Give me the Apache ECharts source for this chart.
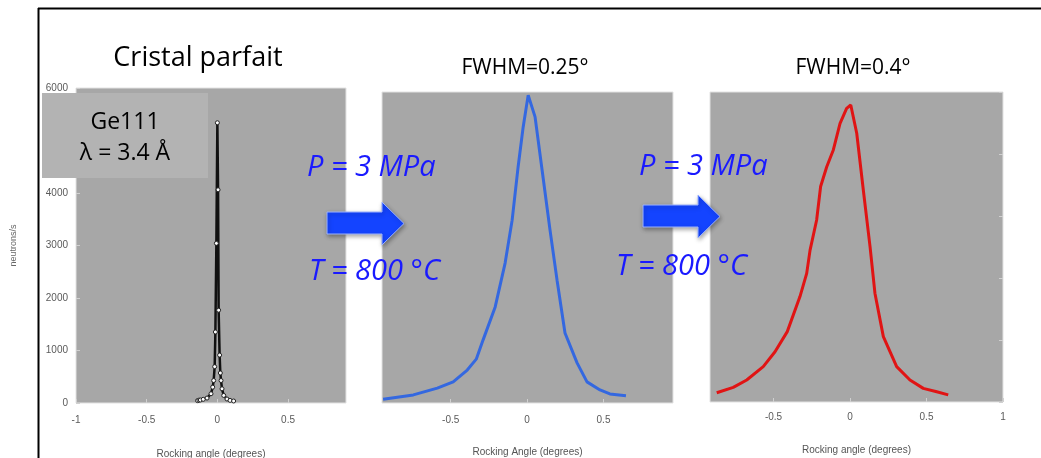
<!DOCTYPE html>
<html><head><meta charset="utf-8">
<script src="https://cdn.jsdelivr.net/npm/echarts@6/dist/echarts.min.js"></script>
<style>html,body{margin:0;padding:0;background:#fff}#c{width:1041px;height:458px}</style>
</head><body><div id="c"></div>
<script>
// Panel 1: perfect crystal (Ge111), neutrons/s vs rocking angle
const angle1 = [-0.14,-0.13,-0.12,-0.10,-0.073,-0.045,-0.033,-0.026,-0.019,-0.014,-0.007,0,0.005,0.009,0.016,0.021,0.026,0.033,0.045,0.068,0.09,0.115];
const counts1 = [45,55,57,70,94,176,302,428,692,1353,3041,5338,4061,1768,912,572,428,270,144,76,50,38];
// Panel 2: FWHM = 0.25° (normalised intensity)
const angle2 = [-0.943,-0.745,-0.588,-0.484,-0.392,-0.333,-0.288,-0.209,-0.144,-0.098,-0.059,-0.026,0.007,0.052,0.098,0.150,0.196,0.248,0.327,0.392,0.477,0.542,0.647];
const int2 = [0.012,0.026,0.048,0.068,0.106,0.141,0.203,0.309,0.450,0.588,0.759,0.887,0.990,0.920,0.749,0.556,0.395,0.225,0.129,0.068,0.042,0.029,0.023];
// Panel 3: FWHM = 0.4° (normalised intensity)
const angle3 = [-0.871,-0.763,-0.675,-0.567,-0.490,-0.410,-0.327,-0.283,-0.261,-0.218,-0.192,-0.152,-0.109,-0.065,-0.022,0.005,0.044,0.087,0.131,0.163,0.218,0.305,0.392,0.479,0.567,0.642];
const int3 = [0.030,0.047,0.071,0.114,0.162,0.227,0.340,0.415,0.490,0.587,0.695,0.759,0.813,0.899,0.947,0.958,0.867,0.684,0.501,0.351,0.211,0.114,0.071,0.044,0.033,0.023];
const yTicks1 = [0,1000,2000,3000,4000,5000,6000];
const xTicks1 = [-1,-0.5,0,0.5];
const xTicks2 = [-0.5,0,0.5];
const xTicks3 = [-0.5,0,0.5,1];
const titles = ['Cristal parfait','FWHM=0.25°','FWHM=0.4°'];
const xNames = ['Rocking angle (degrees)','Rocking Angle (degrees)','Rocking angle (degrees)'];
const yName = 'neutrons/s';

const pairs = (xs, ys) => xs.map((x,i)=>[x, ys[i]]);
const gray = '#a7a7a7';
const labStyle = {color:'#5a5a5a', fontSize:10, fontFamily:'Liberation Sans'};
function xAx(idx, min, max, ticks, name, gap, margin){
  return {type:'value', gridIndex:idx, min, max, name, nameLocation:'middle', nameGap:gap,
    nameTextStyle:{color:'#555', fontSize:10, fontFamily:'Liberation Sans'},
    axisLine:{show:false, onZero:false}, splitLine:{show:false},
    axisTick:{show:true, inside:true, length:4, lineStyle:{color:'#d0d0d0'}, customValues:ticks},
    axisLabel:Object.assign({margin, customValues:ticks, formatter:v=>String(v)}, labStyle)};
}
const chart = echarts.init(document.getElementById('c'));
const blue = '#1a1aff';
function arrow(dx, dy){
  const p = [[327,212],[382,212],[382,202],[404,223.5],[382,245],[382,234],[327,234]];
  return {type:'polygon', z:100, shape:{points:p.map(q=>[q[0]+dx,q[1]+dy])},
    style:{fill:'#1444ff', stroke:'#9db3ff', lineWidth:1, shadowBlur:4, shadowColor:'rgba(0,0,0,0.35)', shadowOffsetX:1, shadowOffsetY:2}};
}
function txt(x,y,s,opt){
  return {type:'text', z:110, x, y, style:Object.assign({text:s, fill:'#000', font:'22px "Open Sans"', textAlign:'left', textVerticalAlign:'middle'}, opt||{})};
}
const gridBase = {show:true, backgroundColor:gray, borderColor:'#e2e2e2', borderWidth:1, containLabel:false, outerBoundsMode:'none'};
chart.setOption({
  animation:false,
  backgroundColor:'#fff',
  grid:[
    Object.assign({left:76, right:1041-346, top:88, bottom:458-403}, gridBase),
    Object.assign({left:382, right:1041-673, top:92, bottom:458-403}, gridBase),
    Object.assign({left:710, right:1041-1003, top:92, bottom:458-402}, gridBase)
  ],
  xAxis:[
    xAx(0,-1,0.91,xTicks1,xNames[0],46,12),
    xAx(1,-0.95,0.955,xTicks2,xNames[1],44,12),
    xAx(2,-0.915,1,xTicks3,xNames[2],43,10)
  ],
  yAxis:[
    {type:'value', gridIndex:0, min:0, max:6000, interval:1000, name:yName, nameLocation:'middle', nameGap:58, nameRotate:90,
      nameTextStyle:{color:'#666', fontSize:9, fontFamily:'Liberation Sans'},
      axisLine:{show:false, onZero:false}, splitLine:{show:false},
      axisTick:{show:true, inside:true, length:4, lineStyle:{color:'#d0d0d0'}},
      axisLabel:Object.assign({margin:8, formatter:v=>String(v)}, labStyle)},
    {type:'value', gridIndex:1, min:0, max:1, axisLine:{show:false, onZero:false}, splitLine:{show:false}, axisLabel:{show:false}, axisTick:{show:false}},
    {type:'value', gridIndex:2, min:0, max:1, interval:0.2, position:'right', axisLine:{show:false, onZero:false}, splitLine:{show:false}, axisLabel:{show:false},
      axisTick:{show:true, inside:true, length:4, lineStyle:{color:'#d0d0d0'}}}
  ],
  series:[
    {type:'line', xAxisIndex:0, yAxisIndex:0, data:pairs(angle1,counts1), symbol:'circle', symbolSize:4,
      lineStyle:{color:'#111', width:2.5}, itemStyle:{color:'#fff', borderColor:'#222', borderWidth:1}},
    {type:'line', xAxisIndex:1, yAxisIndex:1, data:pairs(angle2,int2), symbol:'none',
      lineStyle:{color:'#3468e0', width:3}},
    {type:'line', xAxisIndex:2, yAxisIndex:2, data:pairs(angle3,int3), symbol:'none',
      lineStyle:{color:'#e01414', width:3}}
  ],
  graphic:[
    {type:'line', z:120, shape:{x1:38.5,y1:8,x2:38.5,y2:458}, style:{stroke:'#000', lineWidth:2}},
    {type:'line', z:120, shape:{x1:38,y1:8.5,x2:1041,y2:8.5}, style:{stroke:'#000', lineWidth:2}},
    {type:'rect', z:100, shape:{x:42,y:93,width:166,height:85}, style:{fill:'#b3b3b3'}},
    txt(125,122,'Ge111',{textAlign:'center', font:'23px "Open Sans"'}),
    txt(125,153,'λ = 3.4 Å',{textAlign:'center', font:'23px "Open Sans"'}),
    txt(198,58,titles[0],{textAlign:'center', font:'27px "Open Sans"'}),
    txt(525,68,titles[1],{textAlign:'center', font:'21px "Open Sans"'}),
    txt(853,68,titles[2],{textAlign:'center', font:'21px "Open Sans"'}),
    arrow(0,0),
    arrow(316,-7),
    txt(307,168,'P = 3 MPa',{fill:blue, font:'italic 29px "Open Sans"'}),
    txt(309,272,'T = 800 °C',{fill:blue, font:'italic 29px "Open Sans"'}),
    txt(639,167,'P = 3 MPa',{fill:blue, font:'italic 29px "Open Sans"'}),
    txt(616,267,'T = 800 °C',{fill:blue, font:'italic 29px "Open Sans"'})
  ]
});
</script></body></html>
